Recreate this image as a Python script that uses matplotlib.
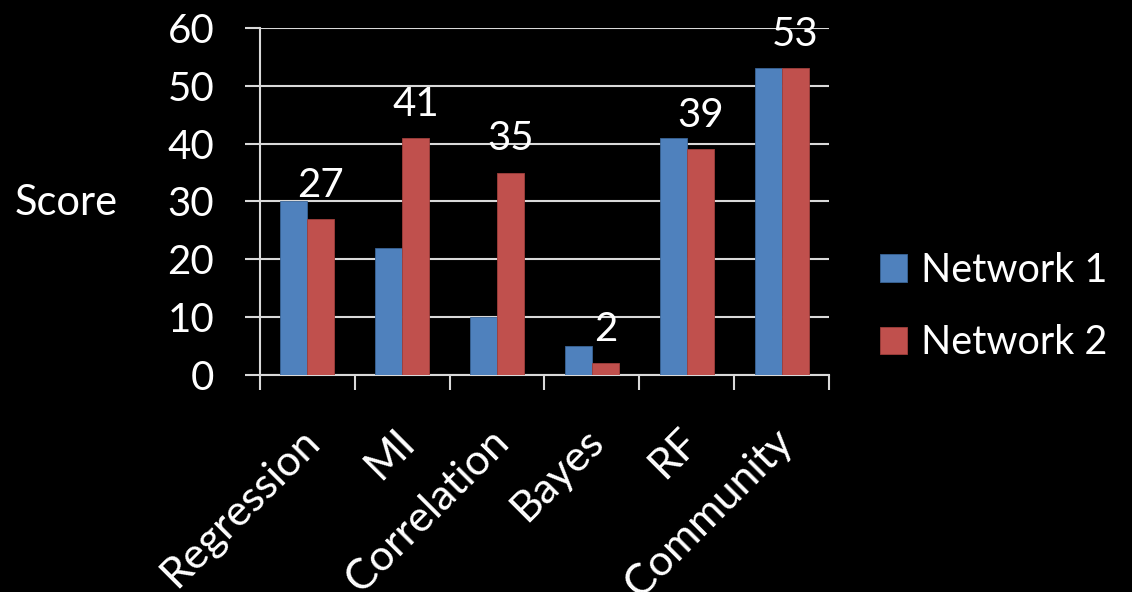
import numpy as np
import matplotlib
matplotlib.use("Agg")
import matplotlib.pyplot as plt
import matplotlib.transforms as mtransforms
from matplotlib.ticker import FixedLocator

plt.rcParams['font.family'] = ['Lato', 'DejaVu Sans']

categories = ['Regression', 'MI', 'Correlation', 'Bayes', 'RF', 'Community']
network_1 = [30, 22, 10, 5, 41, 53]
network_2 = [27, 41, 35, 2, 39, 53]
y_ticks = [0, 10, 20, 30, 40, 50, 60]

blue = '#4F81BD'
red = '#C0504D'
grid_col = '#D9D9D9'
fs = 29

fig = plt.figure(figsize=(11.32, 5.92), dpi=100, facecolor='black')
ax = fig.add_axes([0.2297, 0.3666, 0.5026, 0.5861], facecolor='black')

x = np.arange(len(categories))
w = 0.285
b1 = ax.bar(x - w / 2, network_1, w, color=blue, edgecolor='#3A6597', linewidth=0.6,
            label='Network 1', zorder=3)
b2 = ax.bar(x + w / 2, network_2, w, color=red, edgecolor='#A03F3C', linewidth=0.6,
            label='Network 2', zorder=3)
ax.bar_label(b2, labels=[str(v) for v in network_2], padding=11, color='white', fontsize=fs)

ax.set_xlim(-0.5, len(categories) - 0.5)
ax.set_ylim(0, 60)
ax.set_yticks(y_ticks)
ax.set_yticklabels([str(v) for v in y_ticks], fontsize=fs, color='white')
ax.yaxis.grid(True, color=grid_col, linewidth=1.5, zorder=0)
ax.tick_params(axis='y', length=11, width=1.5, color=grid_col, pad=22)

ax.set_xticks(x)
ax.set_xticklabels(categories, fontsize=31, color='white', rotation=45,
                   ha='right', rotation_mode='anchor')
ax.tick_params(axis='x', which='major', length=0, pad=34)
shift = mtransforms.ScaledTranslation(-8 / 100, 0, fig.dpi_scale_trans)
for lbl in ax.get_xticklabels():
    lbl.set_transform(lbl.get_transform() + shift)
ax.xaxis.set_minor_locator(FixedLocator(np.arange(len(categories) + 1) - 0.5))
ax.tick_params(axis='x', which='minor', length=11, width=1.5, color=grid_col)

for s in ['top', 'right']:
    ax.spines[s].set_visible(False)
for s in ['left', 'bottom']:
    ax.spines[s].set_color(grid_col)
    ax.spines[s].set_linewidth(1.5)

fig.text(0.013, 0.657, 'Score', color='white', fontsize=30, va='center', ha='left')

leg = fig.legend(handles=[b1, b2], loc='center left', bbox_to_anchor=(0.777, 0.482),
                 frameon=False, fontsize=28.5, labelcolor='white', handlelength=0.7,
                 handleheight=0.7, handletextpad=0.35, labelspacing=0.9,
                 borderaxespad=0, borderpad=0)

fig.savefig('out.png', dpi=100, facecolor='black')
